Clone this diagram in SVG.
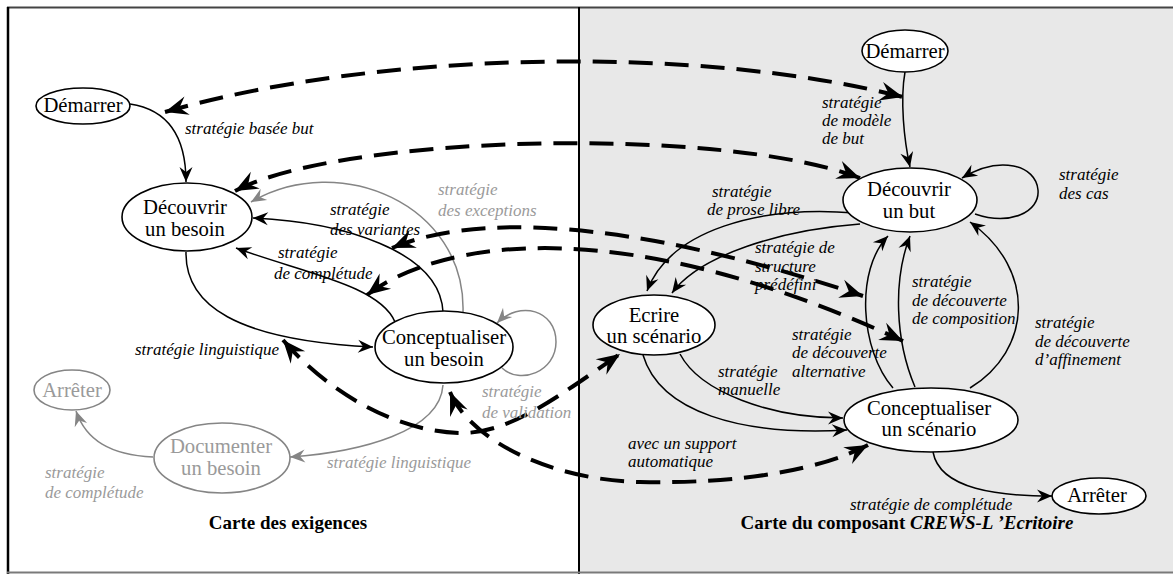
<svg xmlns="http://www.w3.org/2000/svg" width="1173" height="574" viewBox="0 0 1173 574">
  <style>
    .node ellipse { fill: #fff; stroke: #000; stroke-width: 1.6; }
    .node text { font-family: "Liberation Serif", "Times New Roman", serif; font-size: 20.7px; text-anchor: middle; fill: #000; }
    .node.dim ellipse { stroke: #858585; }
    .node.dim text { fill: #9a9a9a; }
    .lbl { font-family: "Liberation Serif", "Times New Roman", serif; font-size: 17px; font-style: italic; fill: #000; }
    .lbl.dim { fill: #9a9a9a; }
    .title { font-family: "Liberation Serif", "Times New Roman", serif; font-size: 19px; font-weight: bold; text-anchor: middle; fill: #000; }
    .edge { fill: none; stroke: #000; stroke-width: 1.5; marker-end: url(#ah); }
    .edge.dim { stroke: #858585; marker-end: url(#ahg); }
    .map { fill: none; stroke: #000; stroke-width: 4; stroke-dasharray: 24 12; marker-end: url(#ahb); marker-start: url(#ahb); }
  </style>
  <defs>
    <marker id="ah" viewBox="-17 -8 19 16" refX="0" refY="0" markerWidth="19" markerHeight="16" markerUnits="userSpaceOnUse" orient="auto">
      <path d="M0,0 L-15,-6.5 L-10,0 L-15,6.5 Z" fill="#000"/>
    </marker>
    <marker id="ahg" viewBox="-17 -8 19 16" refX="0" refY="0" markerWidth="19" markerHeight="16" markerUnits="userSpaceOnUse" orient="auto">
      <path d="M0,0 L-15,-6.5 L-10,0 L-15,6.5 Z" fill="#858585"/>
    </marker>
    <marker id="ahb" viewBox="-26 -11 28 22" refX="0" refY="0" markerWidth="28" markerHeight="22" markerUnits="userSpaceOnUse" orient="auto-start-reverse">
      <path d="M0,0 L-23,-9.5 L-15,0 L-23,9.5 Z" fill="#000"/>
    </marker>
  </defs>

  <!-- frame and shaded right panel -->
  <rect x="0" y="0" width="1173" height="574" fill="#fff"/>
  <rect x="579" y="7" width="594" height="565" fill="#e8e8e8"/>
  <line x1="7" y1="7.5" x2="1173" y2="7.5" stroke="#444" stroke-width="2"/>
  <line x1="8" y1="7" x2="8" y2="574" stroke="#000" stroke-width="2.5"/>
  <line x1="579" y1="7" x2="579" y2="574" stroke="#000" stroke-width="2"/>
  <line x1="7" y1="572.5" x2="1173" y2="572.5" stroke="#7a7a7a" stroke-width="2"/>

  <!-- connectors -->
  <g id="connectors">
    <!-- requirements map -->
    <path class="edge" d="M130,104 C170,110 186,140 186,182"/>
    <path class="edge" d="M443,312 C440,250 340,222 253,218"/>
    <path class="edge" d="M395,322 C380,285 300,272 236,248"/>
    <path class="edge dim" d="M463,312 C466,205 340,150 251,202"/>
    <path class="edge dim" d="M502,368 C520,385 556,372 556,342 C556,310 520,300 497,323"/>
    <path class="edge" d="M186,252 C185,305 235,340 373,347"/>
    <path class="edge dim" d="M443,385 C440,432 360,452 290,457"/>
    <path class="edge dim" d="M153,457 C110,455 86,440 76,411"/>

    <!-- CREWS-L'Ecritoire map -->
    <path class="edge" d="M905,72 C900,100 904,140 910,167"/>
    <path class="edge" d="M975,214 C1010,226 1040,212 1038,190 C1036,165 1000,155 962,178"/>
    <path class="edge" d="M855,213 C760,205 670,230 647,291"/>
    <path class="edge" d="M860,224 C780,230 700,255 672,293"/>
    <path class="edge" d="M680,354 C700,392 770,418 843,418"/>
    <path class="edge" d="M643,355 C660,412 740,436 847,430"/>
    <path class="edge" d="M893,388 C860,350 855,270 888,236"/>
    <path class="edge" d="M915,387 C895,340 893,280 910,236"/>
    <path class="edge" d="M970,388 C1032,350 1037,270 970,222"/>
    <path class="edge" d="M933,452 C940,490 1000,496 1052,496"/>

    <!-- strategy correspondences between the two maps -->
    <path class="map" d="M165,112 C380,50 700,45 903,97"/>
    <path class="map" d="M235,191 C340,135 720,125 860,178"/>
    <path class="map" d="M392,248 C470,215 620,215 863,296"/>
    <path class="map" d="M367,295 C440,240 620,210 903,341"/>
    <path class="map" d="M283,340 C330,395 400,432 460,433 C510,434 560,395 620,354"/>
    <path class="map" d="M450,392 C470,440 550,480 640,482 C740,484 820,470 868,445"/>
  </g>

  <!-- requirements map nodes -->
  <g id="n-demarrer-1" class="node">
    <ellipse cx="83" cy="106" rx="47" ry="18"/>
    <text x="83" y="112">Démarrer</text>
  </g>
  <g id="n-decouvrir-besoin" class="node">
    <ellipse cx="187" cy="217" rx="65" ry="34"/>
    <text x="185" y="214">Découvrir</text>
    <text x="185" y="236">un besoin</text>
  </g>
  <g id="n-conceptualiser-besoin" class="node">
    <ellipse cx="444" cy="347" rx="69" ry="36"/>
    <text x="444" y="344">Conceptualiser</text>
    <text x="444" y="366">un besoin</text>
  </g>
  <g id="n-arreter-1" class="node dim">
    <ellipse cx="72" cy="390" rx="38" ry="20"/>
    <text x="72" y="397">Arrêter</text>
  </g>
  <g id="n-documenter-besoin" class="node dim">
    <ellipse cx="222" cy="458" rx="68" ry="35"/>
    <text x="221" y="453">Documenter</text>
    <text x="221" y="475">un besoin</text>
  </g>

  <!-- CREWS-L'Ecritoire nodes -->
  <g id="n-demarrer-2" class="node">
    <ellipse cx="905" cy="51" rx="43" ry="21"/>
    <text x="905" y="58">Démarrer</text>
  </g>
  <g id="n-decouvrir-but" class="node">
    <ellipse cx="910" cy="200" rx="67" ry="32"/>
    <text x="909" y="196">Découvrir</text>
    <text x="909" y="218">un but</text>
  </g>
  <g id="n-ecrire-scenario" class="node">
    <ellipse cx="654" cy="325" rx="61" ry="30"/>
    <text x="654" y="322">Ecrire</text>
    <text x="654" y="343">un scénario</text>
  </g>
  <g id="n-conceptualiser-scenario" class="node">
    <ellipse cx="931" cy="420" rx="87" ry="32"/>
    <text x="929" y="415">Conceptualiser</text>
    <text x="929" y="436">un scénario</text>
  </g>
  <g id="n-arreter-2" class="node">
    <ellipse cx="1099" cy="496" rx="47" ry="18"/>
    <text x="1097" y="502">Arrêter</text>
  </g>

  <!-- strategy labels, requirements map -->
  <g id="labels-left">
    <text class="lbl" x="185" y="134">stratégie basée but</text>
    <text class="lbl dim" x="438" y="195">stratégie</text>
    <text class="lbl dim" x="438" y="216">des exceptions</text>
    <text class="lbl" x="330" y="215">stratégie</text>
    <text class="lbl" x="330" y="235">des variantes</text>
    <text class="lbl" x="278" y="258">stratégie</text>
    <text class="lbl" x="274" y="279">de complétude</text>
    <text class="lbl" x="135" y="355">stratégie linguistique</text>
    <text class="lbl dim" x="482" y="397">stratégie</text>
    <text class="lbl dim" x="482" y="418">de validation</text>
    <text class="lbl dim" x="327" y="468">stratégie linguistique</text>
    <text class="lbl dim" x="45" y="478">stratégie</text>
    <text class="lbl dim" x="45" y="498">de complétude</text>
  </g>

  <!-- strategy labels, CREWS-L'Ecritoire map -->
  <g id="labels-right">
    <text class="lbl" x="822" y="108">stratégie</text>
    <text class="lbl" x="822" y="126">de modèle</text>
    <text class="lbl" x="822" y="144">de but</text>
    <text class="lbl" x="1059" y="180">stratégie</text>
    <text class="lbl" x="1059" y="199">des cas</text>
    <text class="lbl" x="712" y="197">stratégie</text>
    <text class="lbl" x="707" y="215">de prose libre</text>
    <text class="lbl" x="755" y="253">stratégie de</text>
    <text class="lbl" x="755" y="272">structure</text>
    <text class="lbl" x="755" y="290">prédéfini</text>
    <text class="lbl" x="792" y="340">stratégie</text>
    <text class="lbl" x="792" y="358">de découverte</text>
    <text class="lbl" x="792" y="377">alternative</text>
    <text class="lbl" x="718" y="377">stratégie</text>
    <text class="lbl" x="718" y="395">manuelle</text>
    <text class="lbl" x="912" y="287">stratégie</text>
    <text class="lbl" x="912" y="306">de découverte</text>
    <text class="lbl" x="912" y="324">de composition</text>
    <text class="lbl" x="1035" y="328">stratégie</text>
    <text class="lbl" x="1035" y="347">de découverte</text>
    <text class="lbl" x="1035" y="365">d’affinement</text>
    <text class="lbl" x="628" y="449">avec un support</text>
    <text class="lbl" x="628" y="467">automatique</text>
    <text class="lbl" x="850" y="510">stratégie de complétude</text>
  </g>

  <!-- panel titles -->
  <text class="title" x="288" y="529">Carte des exigences</text>
  <text class="title" x="907" y="529">Carte du composant <tspan font-style="italic">CREWS-L ’Ecritoire</tspan></text>
</svg>
